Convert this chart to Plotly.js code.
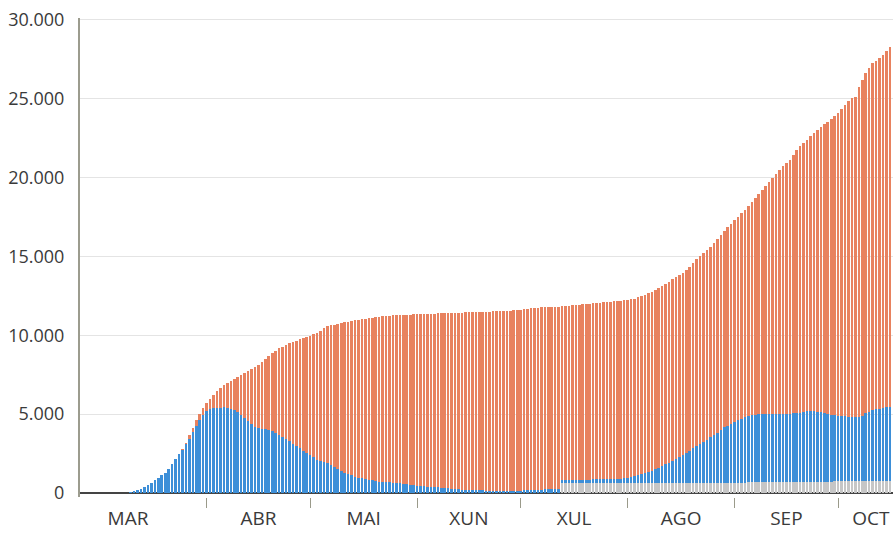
<!DOCTYPE html>
<html><head><meta charset="utf-8">
<script src="https://cdn.plot.ly/plotly-3.0.1.min.js"></script>
<style>html,body{margin:0;padding:0;background:#fff}#chart{width:893px;height:533px}</style>
</head><body><div id="chart"></div>
<script>
// Daily series starting on this date
const startDate = '2020-03-01';
// Top of each stacked bar (total cases)
const total = [
0,0,0,0,1,2,6,12,20,50,
100,180,280,390,520,650,800,950,1120,1300,
1550,1850,2150,2450,2780,3160,3650,4150,4600,5000,
5400,5690,5950,6200,6450,6640,6820,6980,7130,7240,
7380,7500,7620,7720,7850,7960,8120,8300,8500,8700,
8870,9030,9170,9250,9350,9480,9560,9650,9740,9800,
9870,9930,10050,10150,10290,10450,10560,10620,10680,10740,
10780,10830,10870,10910,10940,10980,11000,11030,11070,11110,
11150,11180,11200,11220,11240,11260,11280,11290,11300,11310,
11310,11320,11330,11340,11350,11350,11360,11370,11390,11390,
11400,11410,11420,11420,11430,11440,11450,11450,11460,11470,
11480,11490,11490,11500,11510,11520,11520,11530,11550,11560,
11580,11600,11620,11640,11670,11700,11730,11750,11770,11800,
11810,11810,11810,11820,11840,11860,11880,11900,11920,11940,
11960,11980,12000,12020,12050,12070,12090,12110,12130,12150,
12170,12190,12210,12240,12270,12320,12400,12480,12560,12650,
12740,12850,12980,13100,13250,13400,13540,13680,13800,13930,
14130,14340,14580,14800,15030,15230,15420,15620,15870,16110,
16360,16600,16840,17060,17290,17510,17730,17950,18200,18440,
18700,18950,19220,19480,19720,19980,20230,20480,20700,20920,
21130,21450,21750,21960,22180,22380,22600,22810,23010,23190,
23370,23540,23720,23900,24070,24320,24560,24810,25000,25120,
25700,26150,26600,26930,27240,27400,27560,27780,27980,28260
];
// Active cases (blue)
const activos = [
0,0,0,0,1,2,6,12,20,50,
100,180,280,390,520,650,800,950,1120,1300,
1550,1850,2150,2450,2750,3100,3450,3850,4250,4600,
4950,5220,5300,5370,5400,5420,5440,5420,5350,5280,
5150,4950,4780,4550,4350,4200,4130,4080,4050,4000,
3930,3800,3650,3550,3420,3280,3130,2980,2830,2680,
2520,2400,2270,2120,2050,1970,1890,1780,1650,1530,
1420,1300,1230,1130,1040,980,930,890,850,800,
770,730,710,690,670,650,640,620,600,570,
540,510,470,440,420,400,380,370,360,350,
320,290,270,250,240,220,210,200,190,190,
180,170,160,160,150,150,150,150,150,150,
150,150,160,170,180,190,200,210,220,230,
230,230,230,230,210,215,215,220,220,225,
230,235,240,240,245,250,255,260,265,270,
275,280,300,330,370,430,500,560,630,700,
770,870,970,1070,1180,1290,1400,1520,1640,1760,
1900,2040,2180,2320,2460,2600,2740,2880,3020,3180,
3340,3500,3620,3730,3840,3950,4050,4150,4200,4250,
4290,4310,4330,4340,4330,4310,4290,4290,4300,4320,
4330,4340,4345,4350,4400,4470,4510,4480,4430,4390,
4350,4300,4240,4200,4170,4140,4110,4090,4070,4060,
4060,4150,4310,4400,4480,4530,4580,4620,4650,4680
];
// Grey series, shown from this date on
const falecidosDesde = '2020-07-13';
const falecidos = [
615,616,616,617,617,618,618,619,619,620,
620,621,621,622,622,623,623,624,624,625,
626,627,628,629,630,631,632,633,634,635,
636,637,638,639,640,641,642,643,644,645,
646,647,648,649,651,653,655,656,658,660,
662,664,666,668,670,672,674,676,678,680,
683,686,689,692,695,698,701,704,707,710,
712,714,716,718,720,722,725,728,731,734,
737,740,743,746,749,752,755,758,761,764,
767,770,773,776,778,780
];
// Axis labels
const monthLabels = ['MAR','ABR','MAI','XUN','XUL','AGO','SEP','OCT'];
const monthLabelDates = ['2020-03-09 05:00','2020-04-16','2020-05-16 12:00','2020-06-16','2020-07-16 12:00','2020-08-16 12:00','2020-09-16','2020-10-10 12:00'];
const monthStarts = ['2020-04-01','2020-05-01','2020-06-01','2020-07-01','2020-08-01','2020-09-01','2020-10-01'];
const yTickVals = [0,5000,10000,15000,20000,25000,30000];
const yTickText = ['0','5.000','10.000','15.000','20.000','25.000','30.000'];

function dayStr(base, offset){
  const p = base.split('-').map(Number);
  const d = new Date(Date.UTC(p[0], p[1]-1, p[2] + offset));
  return d.toISOString().slice(0,10);
}
const dates = total.map((_, i) => dayStr(startDate, i));
const deathDates = falecidos.map((_, i) => dayStr(falecidosDesde, i));
const deathOffset = dates.indexOf(falecidosDesde);
const curados = total.map((t, i) => {
  const g = (i >= deathOffset) ? falecidos[i - deathOffset] : 0;
  return t - activos[i] - g;
});

const traces = [
  {type:'bar', x: deathDates, y: falecidos, marker:{color:'#c6c6c6', line:{width:0}}, hoverinfo:'skip'},
  {type:'bar', x: dates, y: activos, marker:{color:'#3d8fd8', line:{width:0}}, hoverinfo:'skip'},
  {type:'bar', x: dates, y: curados, marker:{color:'#e8825f', line:{width:0}}, hoverinfo:'skip'}
];

const layout = {
  width: 893, height: 533,
  margin: {l: 80, r: 0, t: 18, b: 36, pad: 0},
  barmode: 'stack', bargap: 0.25,
  showlegend: false,
  paper_bgcolor: '#ffffff', plot_bgcolor: '#ffffff',
  font: {family: 'Open Sans, sans-serif', color: '#3a3a3a'},
  xaxis: {
    type: 'date', range: ['2020-02-24 07:12', '2020-10-16 21:36'],
    tickmode: 'array', tickvals: monthLabelDates, ticktext: monthLabels,
    ticks: '', showgrid: false, zeroline: false, showline: false,
    tickfont: {size: 19, color: '#3a3a3a'}, ticklabelstandoff: 8, automargin: false,
    ticklabeloverflow: 'allow',
    minor: {tickmode: 'array', tickvals: monthStarts, ticks: 'outside', ticklen: 10, tickwidth: 1, tickcolor: '#9a9a8a', showgrid: false}
  },
  yaxis: {
    range: [-250, 30100], tickmode: 'array', tickvals: yTickVals, ticktext: yTickText,
    showgrid: true, gridcolor: '#e4e4e4', gridwidth: 1,
    zeroline: true, zerolinecolor: '#444444', zerolinewidth: 2,
    showline: true, linecolor: '#9c9c8e', linewidth: 2,
    ticks: '', tickfont: {size: 18, color: '#3a3a3a'}, ticklabelstandoff: 10, automargin: false
  }
};
Plotly.newPlot('chart', traces, layout, {staticPlot: true, displayModeBar: false});
</script>
</body></html>
